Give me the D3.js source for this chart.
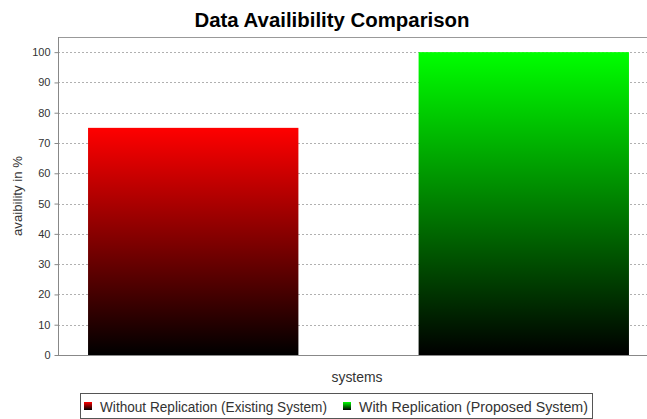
<!DOCTYPE html>
<html><head><meta charset="utf-8">
<script src="https://cdn.jsdelivr.net/npm/d3@7"></script>
<style>body{margin:0;background:#fff;}svg{display:block;font-family:"Liberation Sans",Arial,sans-serif;}</style>
</head><body>
<svg id="chart" width="647" height="419"></svg>
<script>
const title = "Data Availibility Comparison";
const xAxisLabel = "systems";
const yAxisLabel = "avaibility in %";
const seriesNames = ["Without Replication (Existing System)", "With Replication (Proposed System)"];
const seriesValues = [75, 100];
const seriesColors = ["#ff0000", "#00ff00"];
const yTicks = [0, 10, 20, 30, 40, 50, 60, 70, 80, 90, 100];

const svg = d3.select("#chart");
const W = 647, H = 419;
const plot = {left: 58, top: 37, right: 659, bottom: 355};

const x = d3.scaleBand().domain(seriesNames).range([plot.left, plot.right])
  .paddingInner(0.3636).paddingOuter(0.0909);
const y = d3.scaleLinear().domain([0, 105]).range([plot.bottom, plot.top]);

const defs = svg.append("defs");
seriesNames.forEach((s, i) => {
  const g = defs.append("linearGradient").attr("id", "grad" + i)
    .attr("x1", 0).attr("y1", 0).attr("x2", 0).attr("y2", 1);
  g.append("stop").attr("offset", "0%").attr("stop-color", seriesColors[i]);
  g.append("stop").attr("offset", "100%").attr("stop-color", "#000");
});

// title
svg.append("text").attr("x", 332).attr("y", 27).attr("text-anchor", "middle")
  .attr("font-size", 20).attr("font-weight", "bold").attr("fill", "#000")
  .attr("textLength", 275).attr("lengthAdjust", "spacingAndGlyphs").text(title);

// gridlines
const grid = svg.append("g");
grid.selectAll("line").data(yTicks.filter(d => d > 0)).join("line")
  .attr("x1", plot.left).attr("x2", W)
  .attr("y1", d => Math.round(y(d)) + 0.5).attr("y2", d => Math.round(y(d)) + 0.5)
  .attr("stroke", "#b0b0b0").attr("stroke-dasharray", "2,2").attr("stroke-width", 1);

// bars
svg.append("g").selectAll("rect").data(seriesNames).join("rect")
  .attr("x", d => x(d)).attr("width", x.bandwidth())
  .attr("y", (d, i) => y(seriesValues[i]))
  .attr("height", (d, i) => plot.bottom - y(seriesValues[i]))
  .attr("fill", (d, i) => `url(#grad${i})`);

// plot border (top) and axes
svg.append("line").attr("x1", plot.left).attr("x2", W).attr("y1", plot.top + 0.5).attr("y2", plot.top + 0.5)
  .attr("stroke", "#999");
svg.append("line").attr("x1", plot.left).attr("x2", W).attr("y1", plot.bottom + 0.5).attr("y2", plot.bottom + 0.5)
  .attr("stroke", "#888");

const yAxis = d3.axisLeft(y).tickValues(yTicks).tickSize(4).tickPadding(4);
const ya = svg.append("g").attr("transform", `translate(${plot.left + 0.5},0)`).call(yAxis);
ya.select(".domain").attr("stroke", "#888").attr("d", `M0,${plot.top}V${plot.bottom}`);
ya.selectAll(".tick line").attr("stroke", "#888");
ya.selectAll(".tick text").attr("font-size", 11).attr("fill", "#333")
  .attr("font-family", "Liberation Sans, Arial, sans-serif");

// axis labels
svg.append("text").attr("x", 357).attr("y", 382).attr("text-anchor", "middle")
  .attr("font-size", 14).attr("fill", "#333")
  .attr("textLength", 51).attr("lengthAdjust", "spacingAndGlyphs").text(xAxisLabel);
svg.append("text").attr("transform", `translate(22,${(plot.top + plot.bottom) / 2}) rotate(-90)`)
  .attr("text-anchor", "middle").attr("font-size", 13).attr("fill", "#333")
  .attr("textLength", 80).attr("lengthAdjust", "spacingAndGlyphs").text(yAxisLabel);

// legend
const leg = svg.append("g");
leg.append("rect").attr("x", 80.5).attr("y", 393.5).attr("width", 512).attr("height", 25)
  .attr("fill", "#fff").attr("stroke", "#555");
const legX = [84, 343];
const legTextLen = [227, 229];
seriesNames.forEach((s, i) => {
  leg.append("rect").attr("x", legX[i]).attr("y", 402).attr("width", 8).attr("height", 8)
    .attr("fill", `url(#grad${i})`);
  leg.append("text").attr("x", legX[i] + 16).attr("y", 412).attr("font-size", 14)
    .attr("fill", "#333").attr("textLength", legTextLen[i]).attr("lengthAdjust", "spacingAndGlyphs").text(s);
});
</script>
</body></html>
